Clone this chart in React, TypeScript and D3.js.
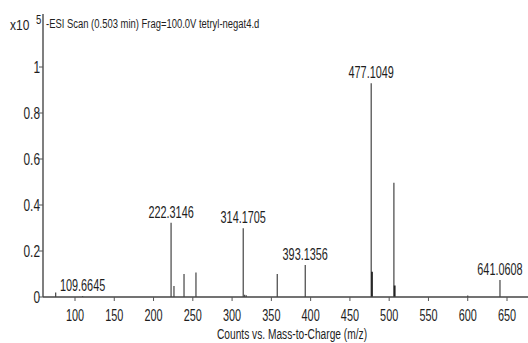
import * as d3 from "d3";

const width = 528;
const height = 343;

// peak list (m/z, counts x10^5)
const peakMz = [75.4, 109.6645, 222.3146, 226.0, 238.8, 254.0, 314.1705, 316.0, 318.0, 357.5, 393.1356, 477.1049, 478.1, 506.0, 507.0, 600.0, 641.0608];
const peakCounts = [0.02, 0.004, 0.323, 0.048, 0.1, 0.106, 0.299, 0.01, 0.008, 0.1, 0.139, 0.929, 0.11, 0.497, 0.05, 0.006, 0.074];
const heavyPeaks = [478.1, 507.0];

const labelledMz = [109.6645, 222.3146, 314.1705, 393.1356, 477.1049, 641.0608];

const xTicks = [100, 150, 200, 250, 300, 350, 400, 450, 500, 550, 600, 650];
const yTicks = [0, 0.2, 0.4, 0.6, 0.8, 1];

const title = "-ESI Scan (0.503 min) Frag=100.0V tetryl-negat4.d";
const xTitle = "Counts vs. Mass-to-Charge (m/z)";

const axisLeft = 43;
const axisBottom = 297;
const axisTop = 14;

const font = "'Liberation Sans', Arial, sans-serif";
const squeeze = 0.68;

// condensed text: the chart uses a narrow face, so squash Arial horizontally
const Narrow = ({ x, y, size, anchor = "middle", sx = squeeze, children }: any) => (
  <g transform={`translate(${x},${y}) scale(${sx},1)`}>
    <text textAnchor={anchor} fontFamily={font} fontSize={size} fill="#1e1e1e">
      {children}
    </text>
  </g>
);

export default function App() {
  const x = d3.scaleLinear().domain([100, 650]).range([75, 507]);
  const y = d3.scaleLinear().domain([0, 1]).range([axisBottom, 67]);

  const peaks = peakMz.map((m, i) => ({ m, c: peakCounts[i] }));

  return (
    <svg
      width={width}
      height={height}
      style={{ position: "absolute", left: 0, top: 0, background: "#fff" }}
    >
      {/* peaks */}
      {peaks.map((p) => (
        <line
          key={p.m}
          x1={x(p.m)}
          x2={x(p.m)}
          y1={y(0)}
          y2={y(p.c)}
          stroke={heavyPeaks.includes(p.m) ? "#222" : "#444"}
          strokeWidth={heavyPeaks.includes(p.m) ? 1.8 : 1.2}
        />
      ))}

      {/* peak labels */}
      {peaks
        .filter((p) => labelledMz.includes(p.m))
        .map((p) => (
          <Narrow key={"l" + p.m} x={x(p.m)} y={y(p.c) - 5} size={16}>
            {p.m.toFixed(4)}
          </Narrow>
        ))}

      {/* axes */}
      <line x1={axisLeft} x2={axisLeft} y1={axisTop} y2={axisBottom} stroke="#555" strokeWidth={1.5} />
      <line x1={axisLeft} x2={width} y1={axisBottom} y2={axisBottom} stroke="#444" strokeWidth={1.5} />

      {yTicks.map((t) => (
        <g key={"y" + t}>
          <line x1={axisLeft - 4} x2={axisLeft} y1={y(t)} y2={y(t)} stroke="#555" />
          <Narrow x={axisLeft - 3} y={y(t) + 6} size={16} anchor="end" sx={0.74}>
            {d3.format("~g")(t)}
          </Narrow>
        </g>
      ))}

      {xTicks.map((t) => (
        <g key={"x" + t}>
          <line x1={x(t)} x2={x(t)} y1={axisBottom} y2={axisBottom + 4} stroke="#555" />
          <Narrow x={x(t)} y={axisBottom + 24} size={16}>
            {t}
          </Narrow>
        </g>
      ))}

      <Narrow x={292} y={339} size={15}>
        {xTitle}
      </Narrow>

      {/* scale factor and scan title */}
      <Narrow x={10} y={30} size={15} anchor="start" sx={0.8}>
        x10
      </Narrow>
      <Narrow x={36} y={24} size={12} anchor="start" sx={0.8}>
        5
      </Narrow>
      <Narrow x={46} y={28} size={13.5} anchor="start" sx={0.7}>
        {title}
      </Narrow>
    </svg>
  );
}
